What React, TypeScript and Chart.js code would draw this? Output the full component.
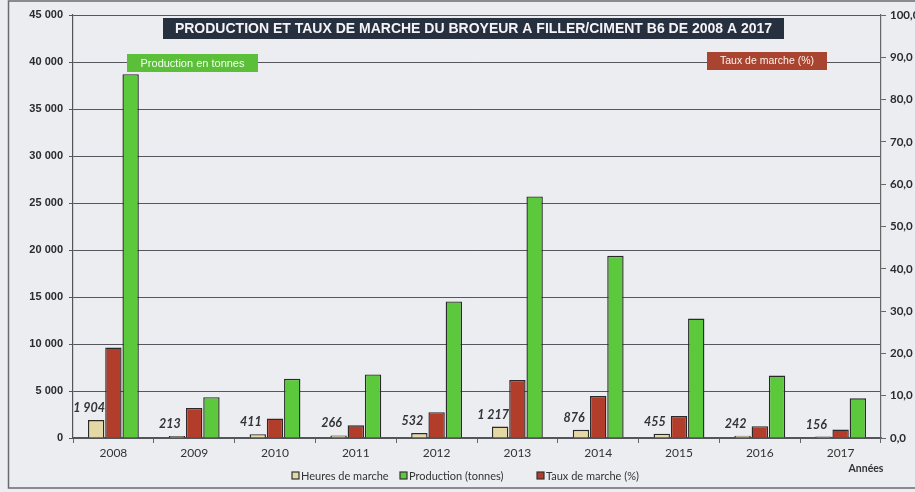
import React, { useEffect, useRef } from "react";
import { Chart, registerables } from "chart.js";

Chart.register(...registerables);

const years = ["2008", "2009", "2010", "2011", "2012", "2013", "2014", "2015", "2016", "2017"];
const heuresMarche = [1904, 213, 411, 266, 532, 1217, 876, 455, 242, 156];
const productionTonnes = [38700, 4340, 6300, 6760, 14530, 25700, 19380, 12700, 6640, 4220];
const tauxMarche = [21.4, 7.1, 4.6, 3.0, 6.1, 13.7, 9.9, 5.2, 2.8, 2.0];

const leftMax = 45000;
const leftStep = 5000;
const rightMax = 100;
const rightStep = 10;

const titleText = "PRODUCTION ET TAUX DE MARCHE DU BROYEUR A FILLER/CIMENT B6 DE 2008 A 2017";
const legendLabels = ["Heures de marche", "Production (tonnes)", "Taux de marche (%)"];
const prodNote = "Production en tonnes";
const tauxNote = "Taux de marche (%)";
const axisNote = "Années";

const BEIGE = "#e4d8a4";
const RED = "#b23d2b";
const GREEN = "#5cc83c";
const EDGE = "#2a2a2a";

const fmtThousands = (v: number) => String(Math.round(v)).replace(/\B(?=(\d{3})+(?!\d))/g, " ");
const fmtDecimal = (v: number) => v.toFixed(1).replace(".", ",");

const decorPlugin = {
  id: "decor",
  beforeDraw(chart: any) {
    const { ctx, width, height } = chart;
    ctx.save();
    ctx.fillStyle = "#ecedf1";
    ctx.fillRect(0, 0, width, height);
    ctx.strokeStyle = "#6a6a70";
    ctx.lineWidth = 1.5;
    ctx.strokeRect(8.5, 1, width + 5, 487);
    ctx.restore();
  },
  afterDatasetsDraw(chart: any) {
    const { ctx } = chart;
    const meta = chart.getDatasetMeta(0);
    ctx.save();
    ctx.font = "italic bold 12.5px Lato";
    ctx.fillStyle = "#333338";
    ctx.textAlign = "center";
    ctx.textBaseline = "alphabetic";
    meta.data.forEach((el: any, i: number) => {
      ctx.fillText(fmtThousands(heuresMarche[i]), el.x - 7, el.y - 8);
    });
    ctx.restore();
  },
  afterDraw(chart: any) {
    const { ctx } = chart;
    ctx.save();
    // Title box
    ctx.fillStyle = "#27303f";
    ctx.fillRect(163, 18, 621, 21);
    let fs = 13;
    ctx.font = `bold ${fs}px "Liberation Sans"`;
    const w = ctx.measureText(titleText).width;
    fs = Math.min(14, fs * 610 / w);
    ctx.font = `bold ${fs}px "Liberation Sans"`;
    ctx.fillStyle = "#f4f4f8";
    ctx.textAlign = "center";
    ctx.textBaseline = "middle";
    ctx.fillText(titleText, 473.5, 29);

    // Production note
    ctx.fillStyle = "#5cbf3a";
    ctx.fillRect(127, 54, 131, 18);
    ctx.font = `11px "Liberation Sans"`;
    ctx.fillStyle = "#f2fff0";
    ctx.fillText(prodNote, 192.5, 63.5);

    // Taux note
    ctx.fillStyle = "#a8442f";
    ctx.fillRect(707, 52, 120, 18);
    ctx.font = `10.5px "Liberation Sans"`;
    ctx.fillStyle = "#fff2ee";
    ctx.fillText(tauxNote, 767, 61.5);

    // Axis note
    ctx.font = "bold 10.5px Lato";
    ctx.fillStyle = "#333";
    ctx.fillText(axisNote, 866, 469);

    // Legend
    const colors = [BEIGE, GREEN, RED];
    const xs = [292, 400, 537];
    ctx.font = "11px Lato";
    ctx.textAlign = "left";
    legendLabels.forEach((lab, i) => {
      ctx.fillStyle = colors[i];
      ctx.fillRect(xs[i], 472, 7, 7);
      ctx.strokeStyle = "#333";
      ctx.lineWidth = 1.2;
      ctx.strokeRect(xs[i], 472, 7, 7);
      ctx.fillStyle = "#333";
      ctx.fillText(lab, xs[i] + 9, 476);
    });
    ctx.restore();
  },
};

export default function App() {
  const ref = useRef<HTMLCanvasElement | null>(null);
  useEffect(() => {
    if (!ref.current) return;
    const chart = new Chart(ref.current, {
      type: "bar",
      data: {
        labels: years,
        datasets: [
          {
            label: legendLabels[0],
            data: heuresMarche,
            backgroundColor: BEIGE,
            borderColor: EDGE,
            borderWidth: 1.4,
            yAxisID: "y",
          },
          {
            label: legendLabels[2],
            data: tauxMarche,
            backgroundColor: RED,
            borderColor: EDGE,
            borderWidth: 1.4,
            yAxisID: "y1",
          },
          {
            label: legendLabels[1],
            data: productionTonnes,
            backgroundColor: GREEN,
            borderColor: EDGE,
            borderWidth: 1.4,
            yAxisID: "y",
          },
        ],
      },
      options: {
        responsive: false,
        animation: false,
        layout: { padding: { top: 15, left: 0, right: 0, bottom: 0 } },
        datasets: { bar: { categoryPercentage: 0.64, barPercentage: 0.95 } },
        plugins: { legend: { display: false }, tooltip: { enabled: false }, title: { display: false } },
        scales: {
          x: {
            grid: { offset: true, drawOnChartArea: false, tickLength: 5, color: "#666" },
            border: { color: "#555", width: 1.2 },
            ticks: { font: { family: "Lato", size: 12 }, color: "#333", padding: 3 },
            afterFit: (s: any) => { s.height = 54; },
          },
          y: {
            position: "left",
            min: 0,
            max: leftMax,
            ticks: {
              stepSize: leftStep,
              callback: (v: any) => fmtThousands(Number(v)),
              font: { family: "Liberation Sans", size: 11, weight: "bold" },
              color: "#2a2a2e",
              padding: 6,
            },
            grid: { color: "#55565e", lineWidth: 1, tickLength: 4 },
            border: { color: "#555", width: 1.2 },
            afterFit: (s: any) => { s.width = 73; },
          },
          y1: {
            position: "right",
            min: 0,
            max: rightMax,
            ticks: {
              stepSize: rightStep,
              callback: (v: any) => fmtDecimal(Number(v)),
              font: { family: "Lato", size: 11.5, weight: "bold" },
              color: "#2a2a2e",
              padding: 4,
            },
            grid: { drawOnChartArea: false, color: "#666", tickLength: 5 },
            border: { color: "#666", width: 1.2 },
            afterFit: (s: any) => { s.width = 34; },
          },
        },
      },
      plugins: [decorPlugin],
    } as any);
    return () => chart.destroy();
  }, []);
  return (
    <div style={{ position: "absolute", left: 0, top: 0, width: 915, height: 492 }}>
      <canvas ref={ref} width={915} height={492} style={{ display: "block" }} />
    </div>
  );
}
